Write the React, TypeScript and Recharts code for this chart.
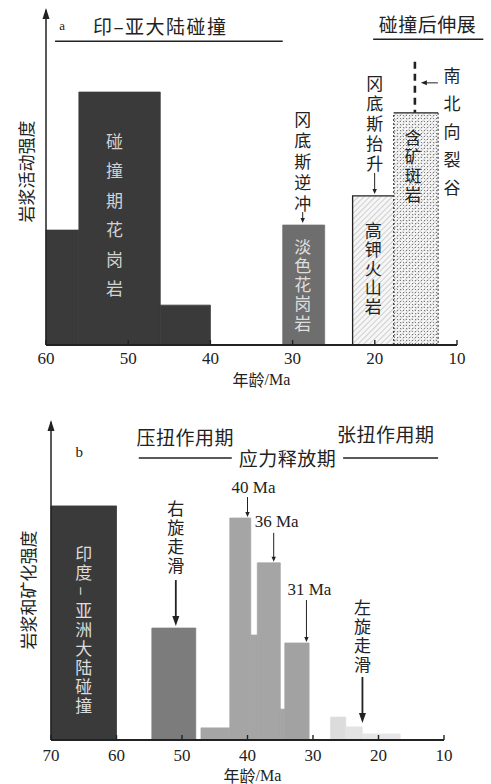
import React from "react";
import { ComposedChart, XAxis, YAxis, ReferenceArea, ReferenceDot, ReferenceLine } from "recharts";

const SERIF = '"Liberation Serif", "DejaVu Serif", serif';
const CJK = '"Noto Sans CJK SC", "Noto Sans", sans-serif';
const INK = "#222";

// ---- panel a: magmatic activity vs age (Ma)
const aTicks = [60, 50, 40, 30, 20, 10];
const aFrom = [60, 56, 46.1, 31.2, 22.7, 17.7];
const aTo = [56, 46.1, 40, 26.1, 17.7, 12.3];
const aLevel = [34.3, 75.5, 11.9, 35.8, 44.5, 69.3];
const aRock = ["", "碰撞期花岗岩", "", "淡色花岗岩", "高钾火山岩", "含矿斑岩"];
const aEvent = ["冈底斯逆冲", "冈底斯抬升", "南北向裂谷"];
const aEventBar = [3, 4, 5];
const aHead = ["a", "印–亚大陆碰撞", "碰撞后伸展"];
const aHeadAge = [58.05, 46.1, 13.6];
const aHeadLevel = [95.5, 95.5, 96.1];
const aSpanFrom = [58.9, 20.2];
const aSpanTo = [31.2, 6.8];
const aSpanLevel = [90.7, 91.3];

// ---- panel b: magmatism & mineralisation vs age (Ma)
const bTicks = [70, 60, 50, 40, 30, 20, 10];
const bFrom = [70, 54.6, 47.1, 42.7, 39.5, 38.5, 35, 34.3, 27.3, 25, 22.5];
const bTo = [60, 47.9, 42.7, 39.5, 38.5, 35, 34.3, 30.6, 25, 22.5, 16.7];
const bLevel = [73.6, 35.2, 3.8, 69.8, 33, 55.7, 9.7, 30.5, 7.2, 4.1, 1.9];
const bRock = ["印度–亚洲大陆碰撞"];
const bPeakAge = [40, 36, 31];
const bPeakText = ["40 Ma", "36 Ma", "31 Ma"];
const bEvent = ["右旋走滑", "左旋走滑"];
const bEventBar = [1, 9];
const bHead = ["b", "压扭作用期", "张扭作用期", "应力释放期"];
const bHeadAge = [65.7, 49.5, 18.9, 33.9];
const bHeadLevel = [90.6, 95.3, 96.5, 88.7];
const bSpanFrom = [56.6, 25.4];
const bSpanTo = [42.4, 10.9];
const bSpanLevel = [88.7, 88.7];

// ---- styling (kept apart from the values)
const aStyle = ["dark", "dark", "dark", "mid", "hatch", "dots"];
const aInside = [
  { bar: 1, dx: -5, dy: 48, step: 29.5, fill: "#d2d2d2" },
  { bar: 3, dx: -1, dy: 20, step: 19.3, fill: "#dedede" },
  { bar: 4, dx: 0, dy: 34, step: 19, fill: INK },
  { bar: 5, dx: -3, dy: 24, step: 19, fill: INK },
];
const aEventLayout = [
  { dx: -1, dy: -107, step: 21, arrow: [-13, -2] },
  { dx: 1.5, dy: -113, step: 20, arrow: [-23, -2] },
  { dx: 36, dy: -38, step: 28, arrow: null },
];
const aHeadStyle = [
  { size: 13, font: SERIF, spacing: 0 },
  { size: 19, font: CJK, spacing: 1.5 },
  { size: 19, font: CJK, spacing: 0.5 },
];

const bFill = ["#3a3a3a", "#7c7c7c", "#a5a5a5", "#a5a5a5", "#a5a5a5", "#a5a5a5", "#a5a5a5", "#a2a2a2", "#dcdcdc", "#e3e3e3", "#e6e6e6"];
const bInside = [{ bar: 0, dx: 0, dy: 47, step: 19, fill: "#dcdcdc" }];
const bEventLayout = [
  { dx: 2, dy: -121, step: 19.3, arrow: [-48, -2] },
  { dx: 8.5, dy: -120, step: 19, arrow: [-50, -4] },
];
const bPeakLayout = [
  { dx: 6, dy: -31, arrow: -21 },
  { dx: 3, dy: -41, arrow: -30 },
  { dx: 3, dy: -54, arrow: -43 },
];
const bHeadStyle = [
  { size: 15, font: SERIF, spacing: 0 },
  { size: 19, font: CJK, spacing: 0.5 },
  { size: 19, font: CJK, spacing: 0.5 },
  { size: 19, font: CJK, spacing: 0.5 },
];

function column(text: string, x: number, y: number, step: number, fill: string, size = 17) {
  return Array.from(text).map((ch, i) => {
    const cy = y + i * step;
    return (
      <text
        key={i}
        x={x}
        y={cy}
        textAnchor="middle"
        dominantBaseline="central"
        fontFamily={CJK}
        fontSize={size}
        fill={fill}
        transform={ch === "–" ? `rotate(90 ${x} ${cy})` : undefined}
      >
        {ch}
      </text>
    );
  });
}

function arrowDown(x: number, y1: number, y2: number, heavy: boolean) {
  const hw = heavy ? 3.5 : 2.2;
  const hl = heavy ? 10 : 5;
  return (
    <g>
      <line x1={x} y1={y1} x2={x} y2={y2 - hl + 1} stroke={INK} strokeWidth={heavy ? 1.8 : 1} />
      <path d={`M${x - hw},${y2 - hl} L${x + hw},${y2 - hl} L${x},${y2} Z`} fill={INK} />
    </g>
  );
}

function ageTick(p: any, dy: number) {
  const { x, y, payload } = p;
  return (
    <g>
      <line x1={x} y1={y} x2={x} y2={y - 5} stroke={INK} strokeWidth={1.4} />
      <text x={x} y={y + dy} textAnchor="middle" fontFamily={SERIF} fontSize={17} fill={INK}>
        {payload.value}
      </text>
    </g>
  );
}

function xTitle(dx: number, dy: number) {
  return (p: any) => {
    const vb = p.viewBox;
    return (
      <text x={vb.x + vb.width / 2 + dx} y={vb.y + dy} textAnchor="middle" dominantBaseline="central" fontSize={16} fill={INK}>
        <tspan fontFamily={CJK}>年龄</tspan>
        <tspan fontFamily={SERIF}>/Ma</tspan>
      </text>
    );
  };
}

function yTitle(text: string, x: number, dy: number) {
  return (p: any) => {
    const vb = p.viewBox;
    const ax = vb.x + vb.width;
    const cy = vb.y + vb.height / 2 + dy;
    return (
      <g>
        <path d={`M${ax},${vb.y - 2} L${ax - 3.5},${vb.y + 9} L${ax + 3.5},${vb.y + 9} Z`} fill={INK} />
        <text x={x} y={cy} textAnchor="middle" dominantBaseline="central" fontFamily={CJK} fontSize={17} fill={INK} transform={`rotate(-90 ${x} ${cy})`}>
          {text}
        </text>
      </g>
    );
  };
}

function hatchShape(kind: string) {
  return (p: any) => {
    const { x, y, width: w, height: h } = p;
    if (kind === "hatch") {
      return (
        <g>
          <rect x={x} y={y} width={w} height={h} fill="url(#hatchA)" />
          <path d={`M${x},${y + h} V${y} H${x + w}`} stroke={INK} strokeWidth={1.3} fill="none" />
        </g>
      );
    }
    return (
      <g>
        <rect x={x} y={y} width={w} height={h} fill="url(#hatchA)" />
        <rect x={x} y={y} width={w} height={h} fill="url(#dotsA)" />
        <path d={`M${x},${y} H${x + w}`} stroke={INK} strokeWidth={1.3} fill="none" />
        <path d={`M${x},${y + h} V${y} M${x + w},${y} V${y + h}`} stroke={INK} strokeWidth={1} strokeDasharray="2 2" fill="none" />
      </g>
    );
  };
}

function headText(text: string, st: any) {
  return (p: any) => (
    <text x={p.cx} y={p.cy} textAnchor="middle" dominantBaseline="central" fontFamily={st.font} fontSize={st.size} letterSpacing={st.spacing} fill={INK}>
      {text}
    </text>
  );
}

function PanelA() {
  const rows = aFrom.map((f, i) => ({ mid: (f + aTo[i]) / 2, level: aLevel[i] }));
  return (
    <ComposedChart width={491} height={390} data={rows} margin={{ top: 10, right: 34, bottom: 0, left: 0 }}>
      <defs>
        <pattern id="hatchA" width="4" height="4" patternUnits="userSpaceOnUse" patternTransform="rotate(45)">
          <rect width="4" height="4" fill="#f6f6f6" />
          <line x1="0" y1="0" x2="0" y2="4" stroke="#a0a0a0" strokeWidth="0.9" />
        </pattern>
        <pattern id="dotsA" width="3" height="3" patternUnits="userSpaceOnUse">
          <circle cx="1.5" cy="1.5" r="0.6" fill="#666" />
        </pattern>
      </defs>
      <XAxis
        type="number"
        dataKey="mid"
        domain={[10, 60]}
        reversed
        allowDataOverflow
        ticks={aTicks}
        interval={0}
        tickSize={0}
        tickMargin={0}
        tickLine={false}
        height={45}
        axisLine={{ stroke: INK, strokeWidth: 2 }}
        tick={(p: any) => ageTick(p, 19)}
        label={{ content: xTitle(10, 34) }}
      />
      <YAxis
        type="number"
        domain={[0, 100]}
        allowDataOverflow
        tick={false}
        tickLine={false}
        width={46}
        axisLine={{ stroke: INK, strokeWidth: 1.5 }}
        label={{ content: yTitle("岩浆活动强度", 25, -6) }}
      />
      {aFrom.map((f, i) => {
        const s = aStyle[i];
        if (s === "hatch" || s === "dots") {
          return <ReferenceArea key={`a${i}`} x1={f} x2={aTo[i]} y1={0} y2={aLevel[i]} shape={hatchShape(s)} />;
        }
        const c = s === "dark" ? "#3a3a3a" : "#6e6e6e";
        return <ReferenceArea key={`a${i}`} x1={f} x2={aTo[i]} y1={0} y2={aLevel[i]} fill={c} fillOpacity={1} stroke={c} strokeWidth={0.8} />;
      })}
      {aInside.map((n, i) => (
        <ReferenceDot
          key={`ai${i}`}
          x={(aFrom[n.bar] + aTo[n.bar]) / 2}
          y={aLevel[n.bar]}
          shape={(p: any) => <g>{column(aRock[n.bar], p.cx + n.dx, p.cy + n.dy, n.step, n.fill)}</g>}
        />
      ))}
      {aEvent.map((t, i) => {
        const b = aEventBar[i];
        const l = aEventLayout[i];
        return (
          <ReferenceDot
            key={`ae${i}`}
            x={(aFrom[b] + aTo[b]) / 2}
            y={aLevel[b]}
            shape={(p: any) => (
              <g>
                {column(t, p.cx + l.dx, p.cy + l.dy, l.step, INK)}
                {l.arrow ? (
                  arrowDown(p.cx + l.dx, p.cy + l.arrow[0], p.cy + l.arrow[1], false)
                ) : (
                  <g>
                    <line x1={p.cx - 1} y1={p.cy - 51} x2={p.cx - 1} y2={p.cy} stroke={INK} strokeWidth={2.6} strokeDasharray="7 5" />
                    <line x1={p.cx + 22} y1={p.cy - 30} x2={p.cx + 10} y2={p.cy - 30} stroke={INK} strokeWidth={1} />
                    <path d={`M${p.cx + 5},${p.cy - 30} L${p.cx + 11},${p.cy - 32.5} L${p.cx + 11},${p.cy - 27.5} Z`} fill={INK} />
                  </g>
                )}
              </g>
            )}
          />
        );
      })}
      {aSpanFrom.map((f, i) => (
        <ReferenceLine
          key={`as${i}`}
          segment={[{ x: f, y: aSpanLevel[i] }, { x: aSpanTo[i], y: aSpanLevel[i] }]}
          stroke={INK}
          strokeWidth={1.5}
          ifOverflow="visible"
        />
      ))}
      {aHead.map((t, i) => (
        <ReferenceDot key={`ah${i}`} x={aHeadAge[i]} y={aHeadLevel[i]} shape={headText(t, aHeadStyle[i])} />
      ))}
    </ComposedChart>
  );
}

function PanelB() {
  const rows = bFrom.map((f, i) => ({ mid: (f + bTo[i]) / 2, level: bLevel[i] }));
  const levelAt = (age: number) => {
    const k = bFrom.findIndex((f, i) => f >= age && bTo[i] <= age);
    return bLevel[k];
  };
  return (
    <ComposedChart width={491} height={394} data={rows} margin={{ top: 32, right: 47, bottom: 0, left: 0 }}>
      <XAxis
        type="number"
        dataKey="mid"
        domain={[10, 70]}
        reversed
        allowDataOverflow
        ticks={bTicks}
        interval={0}
        tickSize={0}
        tickMargin={0}
        tickLine={false}
        height={44}
        axisLine={{ stroke: INK, strokeWidth: 2 }}
        tick={(p: any) => ageTick(p, 21)}
        label={{ content: xTitle(5, 35) }}
      />
      <YAxis
        type="number"
        domain={[0, 100]}
        allowDataOverflow
        tick={false}
        tickLine={false}
        width={51}
        axisLine={{ stroke: INK, strokeWidth: 1.5 }}
        label={{ content: yTitle("岩浆和矿化强度", 27, 9) }}
      />
      {bFrom.map((f, i) => (
        <ReferenceArea key={`b${i}`} x1={f} x2={bTo[i]} y1={0} y2={bLevel[i]} fill={bFill[i]} fillOpacity={1} stroke={bFill[i]} strokeWidth={0.8} />
      ))}
      {bInside.map((n, i) => (
        <ReferenceDot
          key={`bi${i}`}
          x={(bFrom[n.bar] + bTo[n.bar]) / 2}
          y={bLevel[n.bar]}
          shape={(p: any) => <g>{column(bRock[n.bar], p.cx + n.dx, p.cy + n.dy, n.step, n.fill, 17)}</g>}
        />
      ))}
      {bEvent.map((t, i) => {
        const b = bEventBar[i];
        const l = bEventLayout[i];
        return (
          <ReferenceDot
            key={`be${i}`}
            x={(bFrom[b] + bTo[b]) / 2}
            y={bLevel[b]}
            shape={(p: any) => (
              <g>
                {column(t, p.cx + l.dx, p.cy + l.dy, l.step, INK)}
                {arrowDown(p.cx + l.dx, p.cy + l.arrow[0], p.cy + l.arrow[1], true)}
              </g>
            )}
          />
        );
      })}
      {bPeakAge.map((age, i) => {
        const l = bPeakLayout[i];
        return (
          <ReferenceDot
            key={`bp${i}`}
            x={age}
            y={levelAt(age)}
            shape={(p: any) => (
              <g>
                <text x={p.cx + l.dx} y={p.cy + l.dy} textAnchor="middle" dominantBaseline="central" fontFamily={SERIF} fontSize={17} fill={INK}>
                  {bPeakText[i]}
                </text>
                {arrowDown(p.cx, p.cy + l.arrow, p.cy - 1, false)}
              </g>
            )}
          />
        );
      })}
      {bSpanFrom.map((f, i) => (
        <ReferenceLine
          key={`bs${i}`}
          segment={[{ x: f, y: bSpanLevel[i] }, { x: bSpanTo[i], y: bSpanLevel[i] }]}
          stroke={INK}
          strokeWidth={1.5}
          ifOverflow="visible"
        />
      ))}
      {bHead.map((t, i) => (
        <ReferenceDot key={`bh${i}`} x={bHeadAge[i]} y={bHeadLevel[i]} shape={headText(t, bHeadStyle[i])} />
      ))}
    </ComposedChart>
  );
}

export default function App() {
  return (
    <div style={{ position: "absolute", left: 0, top: 0, width: 491, height: 784, background: "#fff" }}>
      <PanelA />
      <PanelB />
    </div>
  );
}
